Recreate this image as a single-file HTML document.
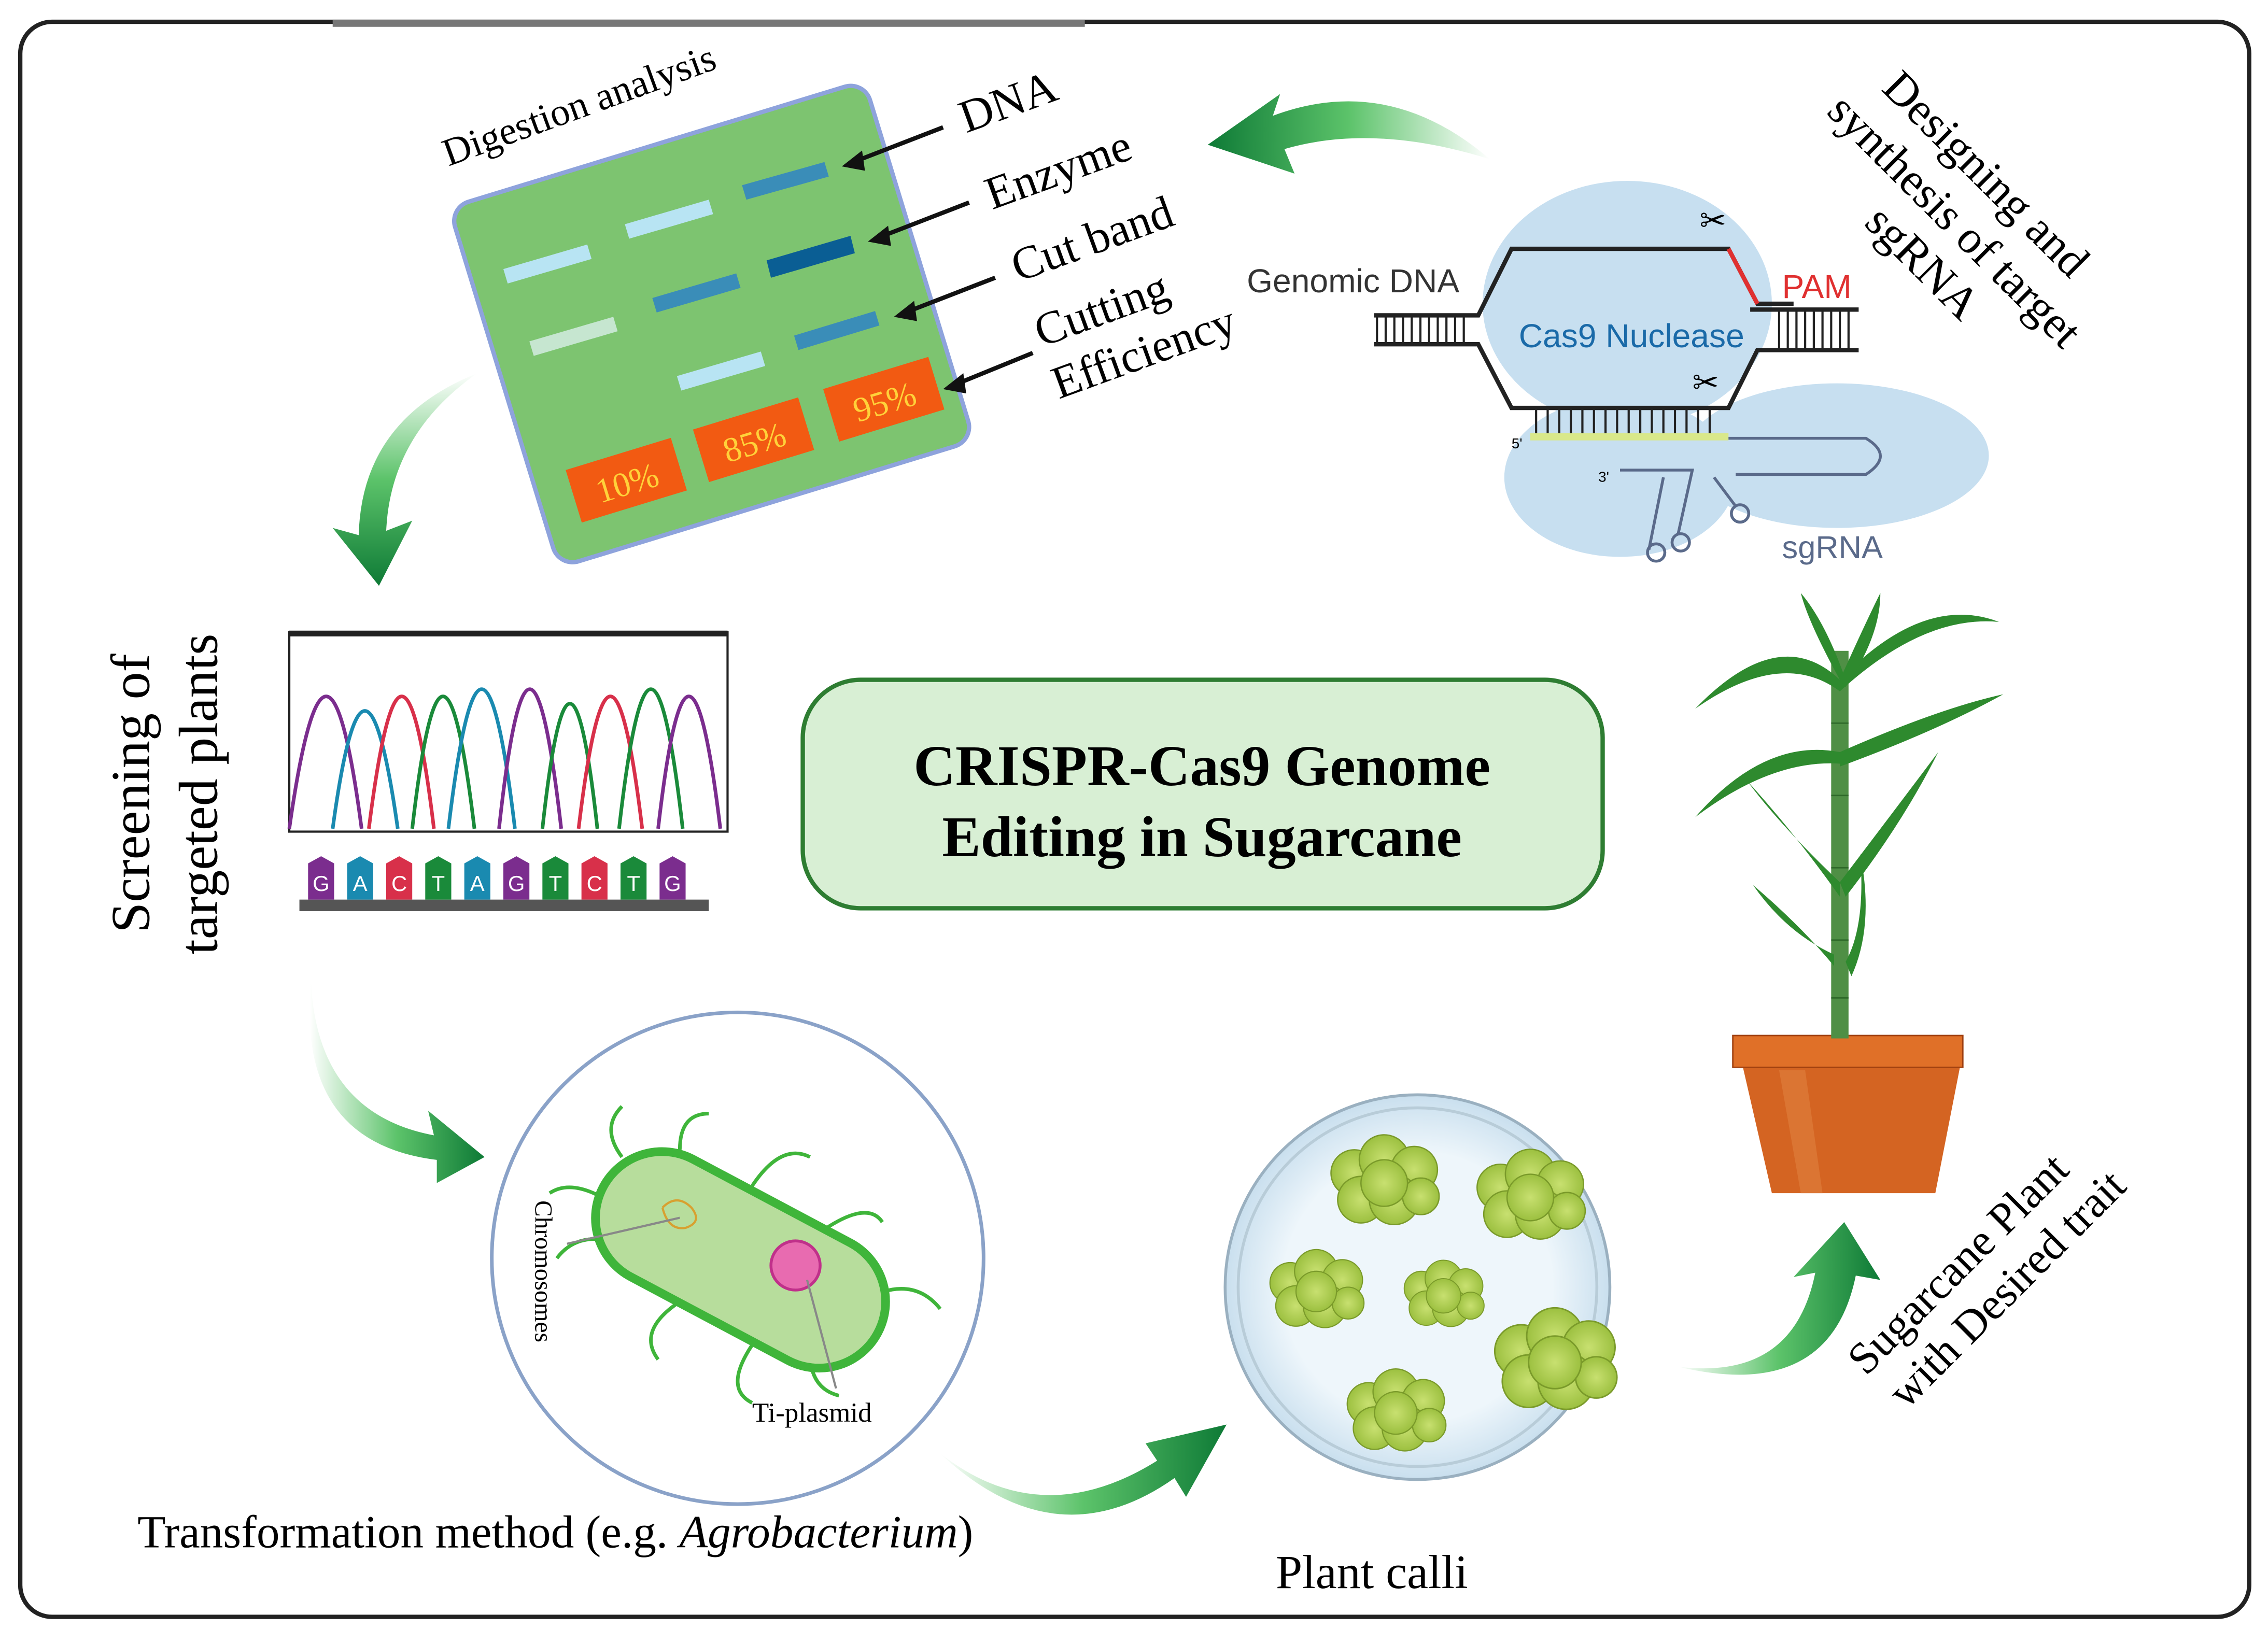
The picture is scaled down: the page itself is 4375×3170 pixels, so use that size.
<!DOCTYPE html>
<html><head><meta charset="utf-8"><style>
html,body{margin:0;padding:0;background:#fff;}
svg{display:block;}
text{font-family:"Liberation Serif",serif;}
.sans{font-family:"Liberation Sans",sans-serif;}
</style></head><body>
<svg width="4375" height="3170" viewBox="0 0 1568 1136" xmlns="http://www.w3.org/2000/svg">
<defs>
<linearGradient id="ga" x1="0" y1="0" x2="1" y2="0">
<stop offset="0" stop-color="#ffffff"/><stop offset="0.5" stop-color="#5cc36a"/><stop offset="1" stop-color="#0e7a36"/>
</linearGradient>
<linearGradient id="gb" x1="0" y1="0" x2="0" y2="1">
<stop offset="0" stop-color="#ffffff"/><stop offset="0.5" stop-color="#5cc36a"/><stop offset="1" stop-color="#0e7a36"/>
</linearGradient>
<linearGradient id="gc" x1="1" y1="0" x2="0" y2="0">
<stop offset="0" stop-color="#ffffff"/><stop offset="0.5" stop-color="#5cc36a"/><stop offset="1" stop-color="#0e7a36"/>
</linearGradient>
<radialGradient id="blob"><stop offset="0" stop-color="#c8e070"/><stop offset="1" stop-color="#9cc040"/></radialGradient>
<radialGradient id="dish"><stop offset="0.7" stop-color="#eef6fb"/><stop offset="1" stop-color="#c9dfee"/></radialGradient>
<g id="cal" fill="url(#blob)" stroke="#7a9a2a" stroke-width="0.8">
<circle cx="-18" cy="-6" r="14"/><circle cx="0" cy="-14" r="15"/><circle cx="18" cy="-8" r="14"/>
<circle cx="-14" cy="10" r="14"/><circle cx="6" cy="10" r="15"/><circle cx="22" cy="8" r="11"/><circle cx="0" cy="0" r="14"/>
</g>
</defs>
<rect width="1568" height="1136" fill="#fff"/>
<rect x="14" y="15" width="1541" height="1103" rx="22" fill="none" stroke="#222" stroke-width="3"/>
<line x1="230" y1="16" x2="750" y2="16" stroke="#777" stroke-width="5"/>

<g transform="translate(492,224) rotate(-17)">
<rect x="-150" y="-130" width="300" height="260" rx="14" fill="#7dc470" stroke="#8ea3dc" stroke-width="3"/>
</g>
<g fill="#b8e4f3">
<polygon points="348,186 406,169 409,179 351,196"/>
<polygon points="432,155 490,138 493,148 435,165"/>
<polygon points="468,260 526,243 529,253 471,270"/>
</g>
<polygon points="366,236 424,219 427,229 369,246" fill="#c6e6d0"/>
<g fill="#3a8db8">
<polygon points="513,128 570,112 573,122 516,138"/>
<polygon points="451,206 509,189 512,199 454,216"/>
<polygon points="549,232 605,215 608,225 552,242"/>
</g>
<polygon points="530,180 588,163 591,175 533,192" fill="#0a5e94"/>
<g transform="rotate(-17 433 332)"><rect x="395" y="313" width="76" height="38" fill="#f25a12"/><text x="433" y="342" font-size="24" fill="#ffd23a" text-anchor="middle">10%</text></g>
<g transform="rotate(-17 521 304)"><rect x="483" y="285" width="76" height="38" fill="#f25a12"/><text x="521" y="314" font-size="24" fill="#ffd23a" text-anchor="middle">85%</text></g>
<g transform="rotate(-17 611 276)"><rect x="573" y="257" width="76" height="38" fill="#f25a12"/><text x="611" y="286" font-size="24" fill="#ffd23a" text-anchor="middle">95%</text></g>
<text x="310" y="115" font-size="27" transform="rotate(-20 310 115)">Digestion analysis</text>
<g font-size="32">
<text x="668" y="92" transform="rotate(-20 668 92)">DNA</text>
<text x="686" y="145" transform="rotate(-20 686 145)">Enzyme</text>
<text x="704" y="195" transform="rotate(-20 704 195)">Cut band</text>
<text x="720" y="240" transform="rotate(-20 720 240)">Cutting</text>
<text x="732" y="276" transform="rotate(-20 732 276)">Efficiency</text>
</g>
<g stroke="#111" stroke-width="3">
<line x1="652" y1="88" x2="590" y2="112"/><line x1="670" y1="140" x2="608" y2="164"/><line x1="688" y1="192" x2="626" y2="216"/><line x1="714" y1="244" x2="660" y2="266"/>
</g>
<g fill="#111">
<polygon points="582,115 596,104 598,118"/><polygon points="600,167 614,156 616,170"/><polygon points="618,219 632,208 634,222"/><polygon points="652,269 666,258 668,272"/>
</g>

<path d="M1030,110 Q960,50 880,80 L885,65 L835,100 L895,120 L888,103 Q950,85 1030,110Z" fill="url(#gc)"/>
<path d="M330,258 Q250,290 248,370 L230,365 L262,405 L285,360 L267,367 Q270,300 330,258Z" fill="url(#gb)"/>
<path d="M215,680 Q220,770 300,785 L296,768 L335,800 L302,818 L302,802 Q205,790 215,680Z" fill="url(#ga)"/>
<path d="M650,1005 Q720,1060 800,1010 L792,998 L848,985 L820,1035 L812,1022 Q730,1080 650,1005Z" fill="url(#ga)"/>
<path d="M1160,945 Q1240,955 1255,880 L1240,883 L1275,845 L1300,885 L1283,882 Q1265,970 1160,945Z" fill="url(#ga)"/>

<ellipse cx="1125" cy="210" rx="100" ry="85" fill="#c7dff0"/>
<ellipse cx="1270" cy="315" rx="105" ry="50" fill="#c7dff0"/>
<ellipse cx="1120" cy="330" rx="80" ry="55" fill="#c7dff0"/>
<path d="M950,218 L1022,218 L1045,172 L1195,172 L1215,210 L1240,210" fill="none" stroke="#222" stroke-width="3"/>
<path d="M1195,172 L1215,210" stroke="#e03030" stroke-width="3"/>
<path d="M950,238 L1022,238 L1045,282 L1195,282 L1215,242 L1285,242" fill="none" stroke="#222" stroke-width="3"/>
<line x1="1210" y1="214" x2="1285" y2="214" stroke="#222" stroke-width="3"/>
<g stroke="#222" stroke-width="1.5">
<path d="M952,218V238M958,218V238M964,218V238M970,218V238M976,218V238M982,218V238M988,218V238M994,218V238M1000,218V238M1006,218V238M1012,218V238M1230,214V242M1236,214V242M1242,214V242M1248,214V242M1254,214V242M1260,214V242M1266,214V242M1272,214V242M1278,214V242"/>
<path d="M1062,282V300M1070,282V300M1078,282V300M1086,282V300M1094,282V300M1102,282V300M1110,282V300M1118,282V300M1126,282V300M1134,282V300M1142,282V300M1150,282V300M1158,282V300M1166,282V300M1174,282V300M1182,282V300"/>
</g>
<line x1="1058" y1="302" x2="1195" y2="302" stroke="#d9e88a" stroke-width="5"/>
<path d="M1195,303 L1290,303 Q1310,315 1290,328 L1200,328" fill="none" stroke="#5a6a8a" stroke-width="2"/>
<path d="M1120,325 L1170,325 L1160,370 M1150,330 L1140,380 M1185,330 L1200,350" fill="none" stroke="#5a6a8a" stroke-width="2"/>
<circle cx="1145" cy="382" r="6" fill="none" stroke="#5a6a8a" stroke-width="2"/>
<circle cx="1162" cy="375" r="6" fill="none" stroke="#5a6a8a" stroke-width="2"/>
<circle cx="1203" cy="355" r="6" fill="none" stroke="#5a6a8a" stroke-width="2"/>
<text x="1045" y="310" font-size="10" class="sans">5'</text>
<text x="1105" y="333" font-size="10" class="sans">3'</text>
<text x="1175" y="160" font-size="22" style="font-family:'DejaVu Sans',sans-serif">✂</text>
<text x="1170" y="272" font-size="22" style="font-family:'DejaVu Sans',sans-serif">✂</text>
<text x="862" y="202" font-size="23" class="sans" fill="#333">Genomic DNA</text>
<text x="1232" y="206" font-size="23" class="sans" fill="#e03030">PAM</text>
<text x="1050" y="240" font-size="23" class="sans" fill="#1a6aa8">Cas9 Nuclease</text>
<text x="1232" y="386" font-size="22" class="sans" fill="#5a6a8a">sgRNA</text>
<g font-size="32">
<text x="1300" y="62" transform="rotate(45 1300 62)">Designing and</text>
<text x="1262" y="78" transform="rotate(45 1262 78)">synthesis of target</text>
<text x="1288" y="155" transform="rotate(45 1288 155)">sgRNA</text>
</g>

<text x="103" y="645" font-size="38" transform="rotate(-90 103 645)">Screening of</text>
<text x="150" y="660" font-size="38" transform="rotate(-90 150 660)">targeted plants</text>
<rect x="200" y="437" width="303" height="138" fill="#fff" stroke="#222" stroke-width="1.5"/>
<line x1="200" y1="438" x2="503" y2="438" stroke="#222" stroke-width="4"/>
<g fill="none" stroke-width="2.5">
<path d="M200,573 Q226,390 250,573" stroke="#7b2d8e"/>
<path d="M230,573 Q252,410 275,573" stroke="#1a8ab0"/>
<path d="M255,573 Q278,390 300,573" stroke="#d8304a"/>
<path d="M285,573 Q306,390 328,573" stroke="#1a8a3a"/>
<path d="M310,573 Q333,380 356,573" stroke="#1a8ab0"/>
<path d="M345,573 Q366,380 388,573" stroke="#7b2d8e"/>
<path d="M375,573 Q394,400 413,573" stroke="#1a8a3a"/>
<path d="M400,573 Q422,390 444,573" stroke="#d8304a"/>
<path d="M428,573 Q450,380 472,573" stroke="#1a8a3a"/>
<path d="M455,573 Q476,390 498,573" stroke="#7b2d8e"/>
</g>
<rect x="207" y="622" width="283" height="8" fill="#555"/>
<g font-size="15" fill="#fff" text-anchor="middle">
<path d="M213,622V597L222,592L231,597V622Z" fill="#7b2d8e"/><text x="222" y="616" class="sans">G</text>
<path d="M240,622V597L249,592L258,597V622Z" fill="#1a8ab0"/><text x="249" y="616" class="sans">A</text>
<path d="M267,622V597L276,592L285,597V622Z" fill="#d8304a"/><text x="276" y="616" class="sans">C</text>
<path d="M294,622V597L303,592L312,597V622Z" fill="#1a8a3a"/><text x="303" y="616" class="sans">T</text>
<path d="M321,622V597L330,592L339,597V622Z" fill="#1a8ab0"/><text x="330" y="616" class="sans">A</text>
<path d="M348,622V597L357,592L366,597V622Z" fill="#7b2d8e"/><text x="357" y="616" class="sans">G</text>
<path d="M375,622V597L384,592L393,597V622Z" fill="#1a8a3a"/><text x="384" y="616" class="sans">T</text>
<path d="M402,622V597L411,592L420,597V622Z" fill="#d8304a"/><text x="411" y="616" class="sans">C</text>
<path d="M429,622V597L438,592L447,597V622Z" fill="#1a8a3a"/><text x="438" y="616" class="sans">T</text>
<path d="M456,622V597L465,592L474,597V622Z" fill="#7b2d8e"/><text x="465" y="616" class="sans">G</text>
</g>

<rect x="555" y="470" width="553" height="158" rx="40" fill="#d8efd4" stroke="#2e7d32" stroke-width="3"/>
<text x="831" y="543" font-size="40" font-weight="bold" text-anchor="middle">CRISPR-Cas9 Genome</text>
<text x="831" y="592" font-size="40" font-weight="bold" text-anchor="middle">Editing in Sugarcane</text>

<circle cx="510" cy="870" r="170" fill="#fff" stroke="#8aa2c8" stroke-width="2.5"/>
<g fill="none" stroke="#3fb53a" stroke-width="2.5">
<path d="M430,800 Q415,780 430,765 M470,795 Q470,770 490,770 M520,820 Q540,790 560,800 M570,850 Q600,830 610,845 M595,900 Q630,880 650,905 M560,935 Q560,960 580,965 M520,930 Q500,960 520,970 M470,900 Q440,920 455,940 M430,860 Q400,850 385,870 M420,830 Q395,815 380,825"/>
</g>
<g transform="rotate(28 512 870)"><rect x="405" y="825" width="215" height="92" rx="46" fill="#b7dd9c" stroke="#3fb53a" stroke-width="6"/></g>
<circle cx="550" cy="875" r="17" fill="#e86bb0" stroke="#c0308a" stroke-width="2"/>
<path d="M458,835 q10,-10 20,0 q8,10 -4,14 q-12,2 -16,-14" fill="none" stroke="#d8a030" stroke-width="1.5"/>
<line x1="470" y1="842" x2="392" y2="860" stroke="#888" stroke-width="1.5"/>
<line x1="558" y1="885" x2="578" y2="960" stroke="#888" stroke-width="1.5"/>
<text x="370" y="830" font-size="17" transform="rotate(90 370 830)">Chromosomes</text>
<text x="520" y="983" font-size="19">Ti-plasmid</text>
<text x="95" y="1070" font-size="32">Transformation method (e.g. <tspan font-style="italic">Agrobacterium</tspan>)</text>

<circle cx="980" cy="890" r="133" fill="url(#dish)" stroke="#9ab0c0" stroke-width="2"/>
<circle cx="980" cy="890" r="124" fill="none" stroke="#b8ccd8" stroke-width="2"/>
<use href="#cal" transform="translate(957,818) scale(1.15)"/>
<use href="#cal" transform="translate(1058,828) scale(1.15)"/>
<use href="#cal" transform="translate(910,893) scale(1.0)"/>
<use href="#cal" transform="translate(998,896) scale(0.85)"/>
<use href="#cal" transform="translate(1075,942) scale(1.3)"/>
<use href="#cal" transform="translate(965,977) scale(1.05)"/>
<text x="882" y="1098" font-size="33">Plant calli</text>

<path d="M1198,718 L1357,718 L1355,738 L1338,825 L1225,825 L1205,738 Z" fill="#d46422"/>
<path d="M1230,740 L1245,825 L1260,825 L1248,740Z" fill="#e08040" opacity="0.6"/>
<rect x="1198" y="716" width="159" height="22" fill="#e07028" stroke="#a04010" stroke-width="1"/>
<rect x="1266" y="450" width="12" height="268" fill="#4f8f45"/>
<g stroke="#2f6a2a" stroke-width="1"><path d="M1266,500H1278M1266,550H1278M1266,600H1278M1266,650H1278M1266,690H1278"/></g>
<g fill="#2e8a2e">
<path d="M1272,470 Q1230,430 1172,490 Q1232,448 1272,478Z"/>
<path d="M1272,470 Q1330,410 1382,430 Q1330,425 1272,478Z"/>
<path d="M1272,470 Q1250,430 1245,410 Q1262,430 1276,470Z"/>
<path d="M1272,470 Q1290,430 1300,410 Q1300,440 1276,475Z"/>
<path d="M1272,520 Q1220,510 1172,565 Q1225,525 1272,528Z"/>
<path d="M1272,520 Q1340,490 1385,480 Q1340,505 1272,530Z"/>
<path d="M1272,610 Q1230,570 1208,540 Q1240,575 1272,620Z"/>
<path d="M1272,610 Q1310,560 1340,520 Q1315,570 1276,620Z"/>
<path d="M1268,660 Q1235,645 1212,612 Q1245,640 1268,668Z"/>
<path d="M1276,665 Q1290,640 1286,590 Q1296,640 1280,675Z"/>
</g>
<g font-size="31">
<text x="1290" y="952" transform="rotate(-45 1290 952)">Sugarcane Plant</text>
<text x="1318" y="975" transform="rotate(-45 1318 975)">with Desired trait</text>
</g>
</svg>
</body></html>
